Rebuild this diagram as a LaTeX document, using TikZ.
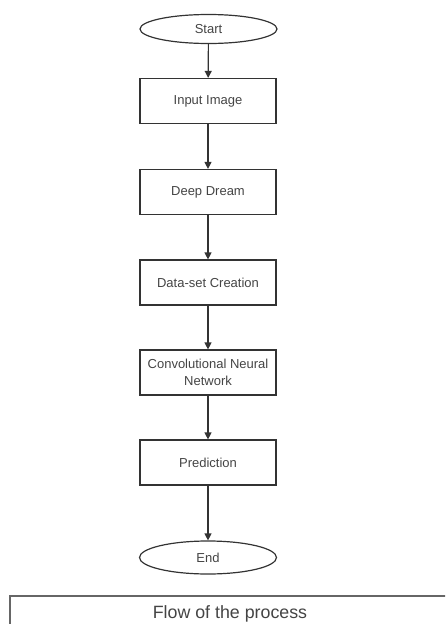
\documentclass[tikz,border=0pt]{standalone}
\usepackage{fontspec}
\setmainfont{Liberation Sans}
\usetikzlibrary{shapes.geometric,arrows.meta}
\definecolor{linec}{HTML}{333333}
\definecolor{textc}{HTML}{444444}
\begin{document}
\begin{tikzpicture}[x=1pt,y=-1pt,
  flowbox/.style={draw=linec,line width=1.2pt,rectangle,minimum width=136pt,minimum height=45pt,inner sep=1pt,align=center,text=textc,font=\fontsize{13}{17}\selectfont},
  term/.style={draw=linec,line width=1.2pt,ellipse,minimum width=137pt,inner sep=0pt,text=textc,font=\fontsize{13}{17}\selectfont},
  flowarrow/.style={draw=linec,line width=1.2pt,-{Triangle[length=7pt,width=7pt]}}]
\useasboundingbox (0,0) rectangle (445,624);
\node[term,minimum height=29pt] (start) at (208.5,29) {Start};
\node[flowbox] (input) at (208,101) {Input Image};
\node[flowbox] (deep) at (208,192) {Deep Dream};
\node[flowbox] (data) at (208,282.5) {Data-set Creation};
\node[flowbox] (cnn) at (208,372.5) {Convolutional Neural\\Network};
\node[flowbox] (pred) at (208,462.5) {Prediction};
\node[term,minimum height=33pt] (end) at (208,557.5) {End};
\draw[flowarrow] (start) -- (input);
\draw[flowarrow] (input) -- (deep);
\draw[flowarrow] (deep) -- (data);
\draw[flowarrow] (data) -- (cnn);
\draw[flowarrow] (cnn) -- (pred);
\draw[flowarrow] (pred) -- (end);
\begin{scope}
\clip (0,0) rectangle (445,624);
\draw[draw=gray!80!black,line width=1.5pt] (10,640) -- (10,596) -- (452,596) -- (452,640);
\node[text=textc,font=\fontsize{17.8}{20}\selectfont,anchor=base] (caption) at (230,618) {Flow of the process};
\end{scope}
\end{tikzpicture}
\end{document}
